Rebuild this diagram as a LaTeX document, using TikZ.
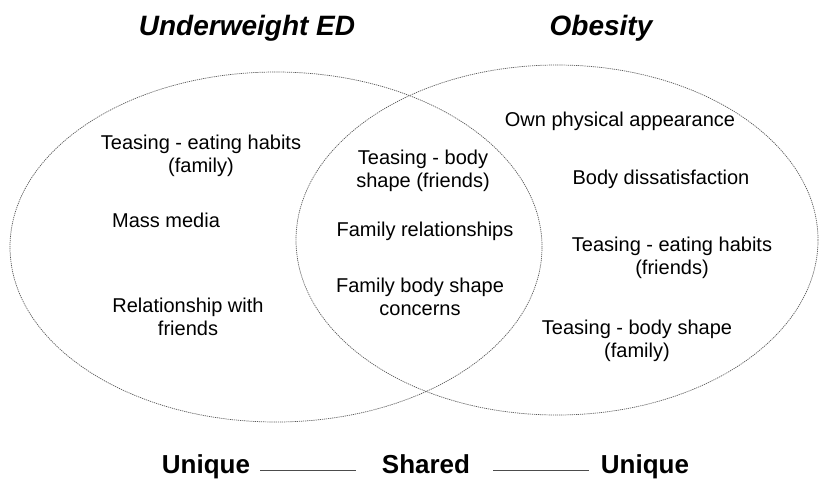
\documentclass[tikz,border=0pt]{standalone}
\usepackage{fontspec}
\setmainfont{Liberation Sans}
\usetikzlibrary{calc}
\tikzset{
  ring/.style={draw=black!65, line width=0.7pt, dash pattern=on 1.2pt off 0.9pt},
  item/.style={anchor=north, inner sep=0pt, align=center, font=\fontsize{20}{23}\selectfont},
  heading/.style={anchor=north, inner sep=0pt, font=\fontsize{28}{32}\selectfont\bfseries\itshape},
  foot/.style={anchor=base, inner sep=0pt, font=\fontsize{26}{30}\selectfont\bfseries},
  link/.style={draw=black!70, line width=0.8pt}
}
\begin{document}
\begin{tikzpicture}[x=1pt, y=-1pt]
\useasboundingbox (0,0) rectangle (820,482);
% circles
\draw[ring] (276,247) ellipse [x radius=266pt, y radius=175pt];
\draw[ring] (557,240) ellipse [x radius=261pt, y radius=175pt];
% headings
\node[heading] (hl) at (247,15) {Underweight ED};
\node[heading] (hr) at (601,15) {Obesity};
% left unique
\node[item] (l1) at (201,135) {Teasing - eating habits\\(family)};
\node[item] (l2) at (166,213) {Mass media};
\node[item] (l3) at (188,298) {Relationship with\\friends};
% shared
\node[item] (c1) at (423,150) {Teasing - body\\shape (friends)};
\node[item] (c2) at (425,222) {Family relationships};
\node[item] (c3) at (420,278) {Family body shape\\concerns};
% right unique
\node[item] (r1) at (620,112) {Own physical appearance};
\node[item] (r2) at (661,170) {Body dissatisfaction};
\node[item] (r3) at (672,237) {Teasing - eating habits\\(friends)};
\node[item] (r4) at (637,320) {Teasing - body shape\\(family)};
% footer
\node[foot] (u1) at (206,473) {Unique};
\node[foot] (sh) at (426,473) {Shared};
\node[foot] (u2) at (645,473) {Unique};
\draw[link] ($(u1.mid east)+(10pt,0pt)$) -- ($(sh.mid west)+(-26pt,0pt)$);
\draw[link] ($(sh.mid east)+(23pt,0pt)$) -- ($(u2.mid west)+(-12pt,0pt)$);
\end{tikzpicture}
\end{document}
